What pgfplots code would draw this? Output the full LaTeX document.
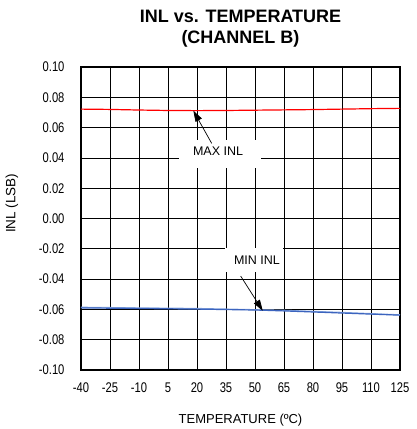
\documentclass[border=0pt]{standalone}
\usepackage{fontspec}
\setmainfont{Liberation Sans}[FakeStretch=0.8]
\newfontfamily\plainfont{Liberation Sans}
\usepackage{pgfplots}
\pgfplotsset{compat=1.18}
\usetikzlibrary{arrows.meta}
\definecolor{redline}{RGB}{255,0,0}
\definecolor{blueline}{RGB}{60,100,190}
\definecolor{lightblue}{RGB}{140,170,225}
\begin{document}
\begin{tikzpicture}
\useasboundingbox (-81pt,-59pt) rectangle (336pt,370pt);
\begin{axis}[
  at={(0,0)}, anchor=south west,
  scale only axis,
  width=319pt, height=303pt,
  xmin=-40, xmax=125,
  ymin=-0.10, ymax=0.10,
  xtick={-40,-25,...,125},
  ytick={-0.10,-0.08,-0.06,-0.04,-0.02,0,0.02,0.04,0.06,0.08,0.10},
  yticklabel style={/pgf/number format/fixed, /pgf/number format/fixed zerofill, /pgf/number format/precision=2},
  /pgf/number format/assume math mode=true,
  ticklabel style={font=\fontsize{14}{16}\selectfont},
  major tick length=0pt,
  grid=major,
  major grid style={black, line width=0.7pt},
  axis line style={black, line width=1.8pt},
  xticklabel style={yshift=-9pt},
  yticklabel style={xshift=-13pt},
  xlabel={TEMPERATURE (ºC)},
  ylabel={INL (LSB)},
  xlabel style={font=\plainfont\fontsize{13}{15}\selectfont, yshift=-15pt},
  ylabel style={font=\plainfont\fontsize{13.5}{15}\selectfont, at={(ticklabel cs:0.55)}, yshift=14pt},
  title={INL vs. TEMPERATURE\\(CHANNEL B)},
  title style={font=\plainfont\bfseries\fontsize{18}{21}\selectfont, align=center, yshift=10pt},
  clip=false,
]
\addplot[redline, line width=1.2pt] coordinates {
(-40,0.0722) (-25,0.0720) (-10,0.0716) (5,0.0713) (20,0.0712) (35,0.0713)
(50,0.0715) (65,0.0717) (80,0.0719) (95,0.0722) (110,0.0725) (125,0.0727)};
\addplot[lightblue, line width=1.2pt] coordinates {
(-40,-0.0586) (-10,-0.0590) (20,-0.0594) (35,-0.0598) (65,-0.0606) (95,-0.0620) (125,-0.0636)};
\addplot[blueline, line width=1.2pt] coordinates {
(-40,-0.0590) (-25,-0.0592) (-10,-0.0594) (5,-0.0596) (20,-0.0598) (35,-0.0601)
(50,-0.0604) (65,-0.0610) (80,-0.0617) (95,-0.0624) (110,-0.0631) (125,-0.0638)};
\node[fill=white, minimum width=82pt, minimum height=28pt, inner sep=0pt] at (axis cs:31.9,0.0426) {};
\node[font=\plainfont\fontsize{12.5}{14}\selectfont, inner sep=0pt] at (axis cs:30.9,0.0446) {MAX INL};
\node[fill=white, minimum width=58pt, minimum height=24pt, inner sep=0pt] at (axis cs:49.5,-0.0271) {};
\node[font=\plainfont\fontsize{12.5}{14}\selectfont, inner sep=0pt] at (axis cs:51.0,-0.0274) {MIN INL};
\draw[black, line width=0.7pt, -{Triangle[length=11pt,width=7pt]}] (axis cs:27.6,0.0496) -- (axis cs:18.1,0.0712);
\draw[black, line width=0.7pt, -{Triangle[length=11pt,width=7pt]}] (axis cs:42.6,-0.038) -- (axis cs:54.0,-0.0609);
\end{axis}
\end{tikzpicture}
\end{document}
